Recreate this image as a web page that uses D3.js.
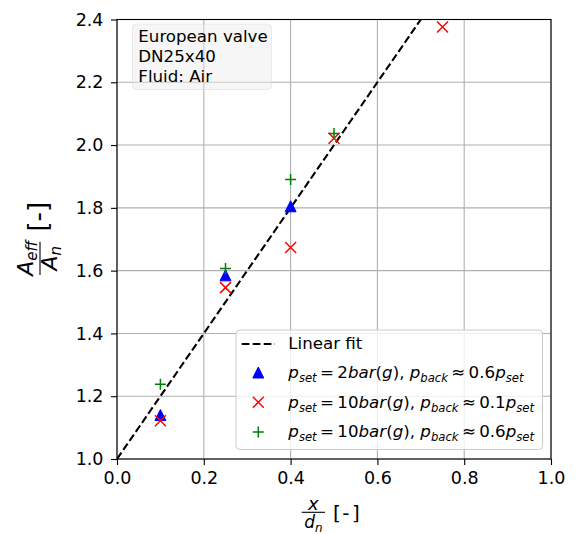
<!DOCTYPE html>
<html>
<head>
<meta charset="utf-8">
<script src="https://cdn.jsdelivr.net/npm/d3@7"></script>
<style>
  html, body { margin: 0; padding: 0; background: #ffffff; }
  svg { display: block; font-family: "DejaVu Sans", sans-serif; }
</style>
</head>
<body>
<svg id="chart" width="579" height="534"></svg>
<script>
// Effective flow area ratio versus relative lift
const xTicks = [0.0, 0.2, 0.4, 0.6, 0.8, 1.0];
const yTicks = [1.0, 1.2, 1.4, 1.6, 1.8, 2.0, 2.2, 2.4];

const liftBlue = [0.1, 0.25, 0.4];
const areaBlue = [1.14, 1.585, 1.805];

const liftRed = [0.1, 0.25, 0.4, 0.5, 0.75];
const areaRed = [1.122, 1.546, 1.674, 2.022, 2.376];

const liftGreen = [0.1, 0.25, 0.4, 0.5];
const areaGreen = [1.238, 1.607, 1.89, 2.037];

const fitSlope = 2.0;
const fitIntercept = 1.0;
const fitLift = [0.0, 0.75];

const infoLines = ["European valve", "DN25x40", "Fluid: Air"];

// legend label pieces: [text, italic, subscript]
const TS = "\u2009";
const legendLabels = [
  [["Linear fit", false, false]],
  [["p", true, false], ["set", true, true], [TS + "=" + TS + "2", false, false], ["bar", true, false], ["(", false, false], ["g", true, false], ["),", false, false], [" p", true, false], ["back", true, true], [TS + "\u2248" + TS + "0.6", false, false], ["p", true, false], ["set", true, true]],
  [["p", true, false], ["set", true, true], [TS + "=" + TS + "10", false, false], ["bar", true, false], ["(", false, false], ["g", true, false], ["),", false, false], [" p", true, false], ["back", true, true], [TS + "\u2248" + TS + "0.1", false, false], ["p", true, false], ["set", true, true]],
  [["p", true, false], ["set", true, true], [TS + "=" + TS + "10", false, false], ["bar", true, false], ["(", false, false], ["g", true, false], ["),", false, false], [" p", true, false], ["back", true, true], [TS + "\u2248" + TS + "0.6", false, false], ["p", true, false], ["set", true, true]]
];

const plot = { left: 117, right: 551, top: 19.5, bottom: 459 };
const svg = d3.select("#chart");

const x = d3.scaleLinear().domain([0, 1]).range([plot.left, plot.right]);
const y = d3.scaleLinear().domain([1.0, 2.4]).range([plot.bottom, plot.top]);

svg.append("defs").append("clipPath").attr("id", "plotClip")
  .append("rect")
  .attr("x", plot.left).attr("y", plot.top)
  .attr("width", plot.right - plot.left).attr("height", plot.bottom - plot.top);

// grid
const grid = svg.append("g").attr("stroke", "#b0b0b0").attr("stroke-width", 1.1);
grid.selectAll("line.gx").data(xTicks).join("line")
  .attr("x1", d => x(d)).attr("x2", d => x(d))
  .attr("y1", plot.top).attr("y2", plot.bottom);
grid.selectAll("line.gy").data(yTicks).join("line")
  .attr("x1", plot.left).attr("x2", plot.right)
  .attr("y1", d => y(d)).attr("y2", d => y(d));

// axes
const tickFont = 17.5;
const xAxis = svg.append("g").attr("transform", `translate(0,${plot.bottom})`)
  .call(d3.axisBottom(x).tickValues(xTicks).tickFormat(d3.format(".1f")).tickSize(6).tickSizeOuter(0).tickPadding(7));
const yAxis = svg.append("g").attr("transform", `translate(${plot.left},0)`)
  .call(d3.axisLeft(y).tickValues(yTicks).tickFormat(d3.format(".1f")).tickSize(6).tickSizeOuter(0).tickPadding(7.5));
[xAxis, yAxis].forEach(a => {
  a.select(".domain").remove();
  a.selectAll(".tick line").attr("stroke", "#000").attr("stroke-width", 1.1);
  a.selectAll(".tick text").attr("fill", "#000").style("font-size", tickFont + "px").style("font-family", "DejaVu Sans");
});

// fit line
const plotArea = svg.append("g").attr("clip-path", "url(#plotClip)");
plotArea.append("path")
  .datum(fitLift)
  .attr("d", d3.line().x(d => x(d)).y(d => y(fitIntercept + fitSlope * d)))
  .attr("fill", "none").attr("stroke", "#000").attr("stroke-width", 2.1)
  .attr("stroke-dasharray", "7.7,3.3");

// marker shapes
const mSize = 11;
function drawTriangle(g, cx, cy, color) {
  const h = mSize / 2;
  g.append("path")
    .attr("d", `M${cx},${cy - h}L${cx + h},${cy + h}L${cx - h},${cy + h}Z`)
    .attr("fill", color).attr("stroke", color).attr("stroke-width", 1);
}
function drawCross(g, cx, cy, color) {
  const h = mSize / 2;
  g.append("path")
    .attr("d", `M${cx - h},${cy - h}L${cx + h},${cy + h}M${cx - h},${cy + h}L${cx + h},${cy - h}`)
    .attr("stroke", color).attr("stroke-width", 1.5).attr("fill", "none");
}
function drawPlus(g, cx, cy, color) {
  const h = mSize / 2;
  g.append("path")
    .attr("d", `M${cx - h},${cy}L${cx + h},${cy}M${cx},${cy - h}L${cx},${cy + h}`)
    .attr("stroke", color).attr("stroke-width", 1.5).attr("fill", "none");
}

const marks = svg.append("g");
liftBlue.forEach((v, i) => drawTriangle(marks, x(v), y(areaBlue[i]), "#0000ff"));
liftRed.forEach((v, i) => drawCross(marks, x(v), y(areaRed[i]), "#ff0000"));
liftGreen.forEach((v, i) => drawPlus(marks, x(v), y(areaGreen[i]), "#008000"));

// spines
svg.append("rect")
  .attr("x", plot.left).attr("y", plot.top)
  .attr("width", plot.right - plot.left).attr("height", plot.bottom - plot.top)
  .attr("fill", "none").attr("stroke", "#000").attr("stroke-width", 1.1);

// info box
const textFont = 16.67;
svg.append("rect")
  .attr("x", 132.5).attr("y", 24).attr("width", 139).attr("height", 65.5).attr("rx", 4)
  .attr("fill", "#ebebeb").attr("fill-opacity", 0.45)
  .attr("stroke", "#d8d8d8").attr("stroke-opacity", 0.5).attr("stroke-width", 1);
svg.append("g").selectAll("text").data(infoLines).join("text")
  .attr("x", 138.3).attr("y", (d, i) => 41.7 + i * 20)
  .style("font-size", textFont + "px").attr("fill", "#000")
  .text(d => d);

// rich text helper
function richText(g, pieces, xPos, yPos, fs) {
  const t = g.append("text").attr("x", xPos).attr("y", yPos).style("font-size", fs + "px").attr("fill", "#000");
  const shift = 0.22 * fs;
  let down = false;
  pieces.forEach(([txt, it, sub]) => {
    const s = t.append("tspan").text(txt).style("white-space", "pre");
    if (it) s.style("font-style", "italic");
    if (sub) { s.style("font-size", (0.7 * fs) + "px"); if (!down) { s.attr("dy", shift); down = true; } }
    else if (down) { s.attr("dy", -shift); down = false; }
  });
  return t;
}

// legend
const legend = svg.append("g");
legend.append("rect")
  .attr("x", 236).attr("y", 330).attr("width", 306.5).attr("height", 119.5).attr("rx", 4)
  .attr("fill", "#ffffff").attr("fill-opacity", 0.8)
  .attr("stroke", "#cccccc").attr("stroke-width", 1);
const rowBase = [349.3, 378.3, 408.3, 437.3];
legend.append("line")
  .attr("x1", 241.7).attr("x2", 275).attr("y1", 344).attr("y2", 344)
  .attr("stroke", "#000").attr("stroke-width", 2.1).attr("stroke-dasharray", "7.7,3.3");
drawTriangle(legend, 258.3, 372.5, "#0000ff");
drawCross(legend, 258.3, 402.3, "#ff0000");
drawPlus(legend, 258.3, 432, "#008000");
legendLabels.forEach((pieces, i) => richText(legend, pieces, 288.3, rowBase[i], textFont));

// x axis label: x / d_n [-]
const xl = svg.append("g");
xl.append("text").attr("x", 313.4).attr("y", 509.5).attr("text-anchor", "middle")
  .style("font-size", "18px").style("font-style", "italic").text("x");
xl.append("line").attr("x1", 301.7).attr("x2", 325).attr("y1", 512.3).attr("y2", 512.3)
  .attr("stroke", "#000").attr("stroke-width", 1.1);
const dn = xl.append("text").attr("x", 313.4).attr("y", 528).attr("text-anchor", "middle")
  .style("font-size", "17px").style("font-style", "italic");
dn.append("tspan").text("d");
dn.append("tspan").attr("dy", 3.5).style("font-size", "12px").text("n");
const xb = xl.append("text").attr("x", 333).attr("y", 520).style("font-size", "20px");
xb.append("tspan").text("[");
xb.append("tspan").attr("dx", 1.5).text("-");
xb.append("tspan").attr("dx", 2.5).text("]");

// y axis label: A_eff / A_n [-]
const yl = svg.append("g").attr("transform", "rotate(-90)");
const num = yl.append("text").attr("x", -258.3).attr("y", 33).attr("text-anchor", "middle")
  .style("font-size", "22px").style("font-style", "italic");
num.append("tspan").text("A");
num.append("tspan").attr("dy", 3.5).style("font-size", "15px").text("eff");
yl.append("line").attr("x1", -275).attr("x2", -241.7).attr("y1", 40).attr("y2", 40)
  .attr("stroke", "#000").attr("stroke-width", 1.1);
const den = yl.append("text").attr("x", -258.3).attr("y", 57).attr("text-anchor", "middle")
  .style("font-size", "22px").style("font-style", "italic");
den.append("tspan").text("A");
den.append("tspan").attr("dy", 3.5).style("font-size", "15px").text("n");
yl.append("text").attr("x", -216.7).attr("y", 46.5).attr("text-anchor", "middle")
  .style("font-size", "26px").text("[-]");
</script>
</body>
</html>
